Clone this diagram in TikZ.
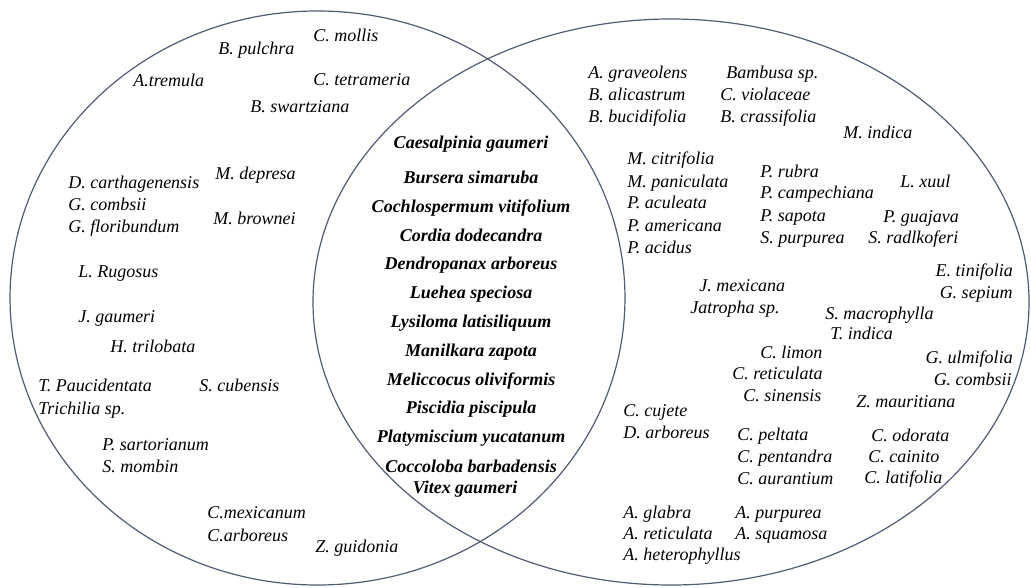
\documentclass[tikz,border=0pt]{standalone}
\usepackage{fontspec}
\setmainfont{Liberation Serif}
\definecolor{vennline}{RGB}{78,92,118}
\begin{document}
\begin{tikzpicture}[
    x=0.75pt, y=-0.75pt,
    every node/.style={inner sep=0pt},
    species/.style={font=\itshape\fontsize{13.5}{16}\selectfont, anchor=base west},
    speciesr/.style={species, anchor=base east},
    shared/.style={font=\bfseries\itshape\fontsize{13.5}{16}\selectfont, anchor=base},
    set/.style={draw=vennline, line width=0.9pt}]
    \useasboundingbox (0,0) rectangle (1031,588);

    % the two sets
    \coordinate (lc) at (317.5,298);
    \coordinate (rc) at (671,302);
    \draw[set] (lc) ellipse [x radius=230.6pt, y radius=215.25pt];
    \draw[set] (rc) ellipse [x radius=268.5pt, y radius=212.25pt];

    % left set only
    \foreach \x/\y/\t [count=\i] in {
        313/42/C. mollis, 218/55/B. pulchra, 133/87/A.tremula,
        313/86/C. tetrameria, 250/113/B. swartziana, 215/180/M. depresa,
        68/189/D. carthagenensis, 68/210/G. combsii, 68/232/G. floribundum,
        213/224/M. brownei, 78/277/L. Rugosus, 78/322/J. gaumeri,
        110/352/H. trilobata, 38/391/T. Paucidentata, 199/391/S. cubensis,
        38/414/Trichilia sp., 102/450/P. sartorianum, 102/472/S. mombin,
        207/518/C.mexicanum, 207/541/C.arboreus, 315/552/Z. guidonia}
        \node[species] (l\i) at (\x,\y) {\t};

    % both sets
    \foreach \x/\y/\t [count=\i] in {
        471/148.5/Caesalpinia gaumeri, 471/184/Bursera simaruba,
        471/212/Cochlospermum vitifolium, 471/241.5/Cordia dodecandra,
        471/269.6/Dendropanax arboreus, 471/298.5/Luehea speciosa,
        471/327/Lysiloma latisiliquum, 471/356/Manilkara zapota,
        471/385/Meliccocus oliviformis, 471/413.6/Piscidia piscipula,
        471/442/Platymiscium yucatanum, 471/472/Coccoloba barbadensis,
        465/493/Vitex gaumeri}
        \node[shared] (m\i) at (\x,\y) {\t};

    % right set only
    \foreach \x/\y/\t [count=\i] in {
        588/79/A. graveolens, 588/101/B. alicastrum, 588/123/B. bucidifolia,
        726/79/Bambusa sp., 720/101/C. violaceae, 720/123/B. crassifolia,
        843/139/M. indica, 627/165/M. citrifolia, 627/188/M. paniculata,
        627/209/P. aculeata, 627/231/P. americana, 627/253/P. acidus,
        760/178/P. rubra, 760/199/P. campechiana, 760/221/P. sapota,
        760/243/S. purpurea, 900/187/L. xuul, 883/222/P. guajava,
        868/243/S. radlkoferi, 699/291/J. mexicana, 690/313/Jatropha sp.,
        825/319/S. macrophylla, 830/339/T. indica, 760/358/C. limon,
        732/379/C. reticulata, 743/401/C. sinensis, 623/416/C. cujete,
        623/438/D. arboreus, 737/440/C. peltata, 737/462/C. pentandra,
        737/484/C. aurantium, 623/518/A. glabra, 623/539/A. reticulata,
        623/560/A. heterophyllus, 735/518/A. purpurea, 735/539/A. squamosa,
        856/407/Z. mauritiana, 871/441/C. odorata, 868/462/C. cainito,
        864/483/C. latifolia}
        \node[species] (r\i) at (\x,\y) {\t};
    \foreach \x/\y/\t [count=\i] in {
        1013/276/E. tinifolia, 1013/298/G. sepium,
        1013/363/G. ulmifolia, 1012/385/G. combsii}
        \node[speciesr] (re\i) at (\x,\y) {\t};
\end{tikzpicture}
\end{document}
